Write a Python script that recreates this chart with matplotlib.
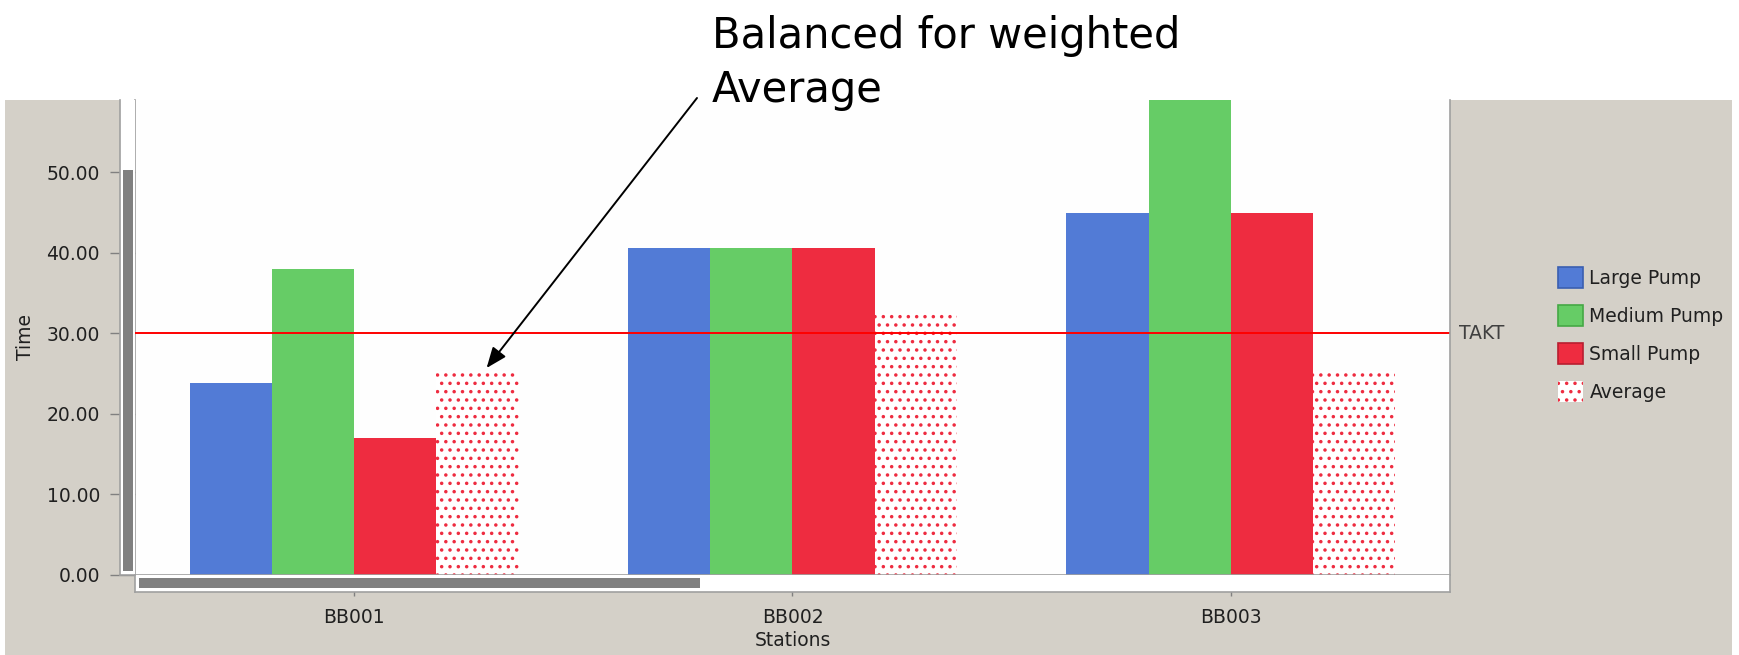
import numpy as np
import matplotlib
matplotlib.use('Agg')
import matplotlib.pyplot as plt
from matplotlib.patches import Rectangle
from matplotlib.lines import Line2D

stations = ['BB001', 'BB002', 'BB003']
series = ['Large Pump', 'Medium Pump', 'Small Pump', 'Average']
large_pump = [23.8, 40.6, 45.0]
medium_pump = [38.0, 40.6, 62.0]
small_pump = [17.0, 40.6, 45.0]
average = [25.3, 32.4, 25.3]
takt = 30.0
y_ticks = [0, 10, 20, 30, 40, 50]

W, H = 1740, 655
panel_grey = '#d4d0c8'
frame_grey = '#a0a0a0'
text_col = '#202020'
colors = ['#527bd6', '#66cc66', '#ee2c40']
edges = ['#3a5fb0', '#45a845', '#b81e30']
fs = 13.5

plt.rcParams['font.family'] = 'DejaVu Sans'
plt.rcParams['hatch.linewidth'] = 1.3

fig = plt.figure(figsize=(W / 100, H / 100), dpi=100, facecolor='white')


def box(x0, y0, x1, y1):
    # pixel box measured from the top-left -> figure fraction
    return [x0 / W, 1 - y1 / H, (x1 - x0) / W, (y1 - y0) / H]


def rect(x0, y0, x1, y1, z, color):
    l, b, w, h = box(x0, y0, x1, y1)
    fig.add_artist(Rectangle((l, b), w, h, transform=fig.transFigure,
                             zorder=z, facecolor=color, edgecolor='none'))


def line(xs, ys, z=4):
    fig.add_artist(Line2D([x / W for x in xs], [1 - y / H for y in ys],
                          transform=fig.transFigure, color=frame_grey,
                          lw=1.2, zorder=z))


# window panel behind the chart
rect(5, 100, 1732, 655, -1, panel_grey)

ax = fig.add_axes(box(135, 100, 1450, 575))
ax.set_facecolor('#fefefe')

x = np.arange(len(stations))
width = 0.1875
for i, vals in enumerate([large_pump, medium_pump, small_pump]):
    ax.bar(x + (i - 1.5) * width, vals, width, color=colors[i],
           linewidth=0, label=series[i], zorder=2)
ax.bar(x + 1.5 * width, average, width, facecolor='white',
       edgecolor=colors[2], hatch='..', linewidth=0, label=series[3], zorder=2)

ax.axhline(takt, color='#ff0000', lw=1.4, zorder=3)
ax.text(1.007, takt, 'TAKT', transform=ax.get_yaxis_transform(),
        ha='left', va='center', color='#404040', fontsize=fs)

ax.set_xlim(-0.5, 2.5)
ax.set_ylim(0, 59)
ax.set_xticks(x)
ax.set_xticklabels(stations)
ax.set_yticks(y_ticks)
ax.set_yticklabels([f'{v:.2f}' for v in y_ticks])
ax.tick_params(axis='y', length=18, width=1, color='#808080', pad=7.2,
               labelsize=fs, labelcolor=text_col)
ax.tick_params(axis='x', length=15, width=1, color='#808080', pad=9,
               labelsize=fs, labelcolor=text_col)

for side in ['top', 'right']:
    ax.spines[side].set_visible(False)
for side in ['left', 'bottom']:
    ax.spines[side].set_color(frame_grey)
    ax.spines[side].set_linewidth(1.2)

ax.set_ylabel('Time', fontsize=fs, color=text_col)
ax.yaxis.set_label_coords(-(135 - 35) / 1315, 0.5)
ax.set_xlabel('Stations', fontsize=fs, color=text_col)
ax.xaxis.set_label_coords(0.5, -(631 - 575) / 475)

# scroll strips along the left and bottom of the plot
rect(120, 100, 135, 575, 2, 'white')
rect(123, 170, 133, 571, 3, '#808080')
rect(135, 575, 1450, 592, 2, 'white')
rect(139, 578, 700, 588, 3, '#808080')
line([120, 120], [100, 575])
line([120, 135], [575, 575])
line([135, 135], [575, 592])
line([135, 1450], [592, 592])
line([1450, 1450], [100, 592])

leg = ax.legend(loc='center left', bbox_to_anchor=(1558 / W, 1 - 334.5 / H),
                bbox_transform=fig.transFigure, frameon=False, fontsize=fs,
                handlelength=1.33, handleheight=1.33, handletextpad=0.35,
                labelspacing=0.92, borderpad=0, borderaxespad=0,
                labelcolor=text_col)
for h, ec in zip(leg.legend_handles[:3], edges):
    h.set_edgecolor(ec)
    h.set_linewidth(1.2)

# va='baseline' puts the last line's baseline at y
fig.text(712 / W, 1 - 102 / H, 'Balanced for weighted\nAverage', fontsize=30,
         ha='left', va='baseline', linespacing=1.36, color='black')
ax.annotate('', xy=(x[0] + 1.5 * width + 0.015, average[0]), xycoords='data',
            xytext=(697, H - 98), textcoords='figure pixels',
            arrowprops=dict(arrowstyle='-|>,head_length=0.5,head_width=0.2',
                            color='black', lw=1.4, mutation_scale=25,
                            shrinkA=0, shrinkB=3),
            annotation_clip=False)

fig.savefig('out.png', dpi=100)
